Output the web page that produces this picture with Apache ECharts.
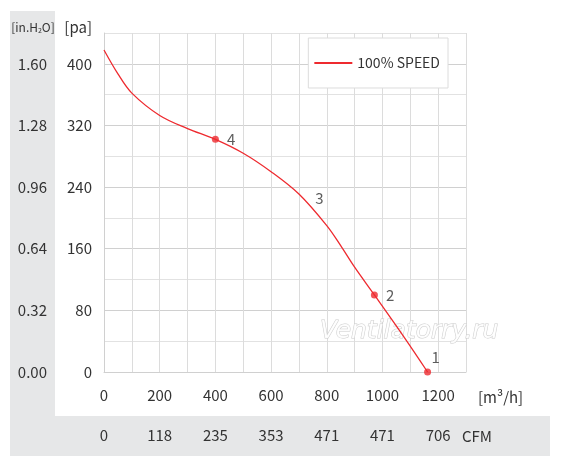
<!DOCTYPE html>
<html>
<head>
<meta charset="utf-8">
<script src="https://cdn.jsdelivr.net/npm/echarts@6/dist/echarts.min.js"></script>
<style>
html, body { margin: 0; padding: 0; background: #fff; }
#chart { width: 566px; height: 463px; }
</style>
</head>
<body>
<div id="chart"></div>
<script>
// curve: flow [m3/h] vs static pressure [pa]
var flow = [0, 50, 100, 200, 300, 400, 500, 600, 700, 800, 850, 900, 971, 1080, 1162];
var pressure = [418, 387, 362, 333, 316, 302, 284, 260, 231, 190, 164, 136, 100, 44, 0];

// numbered operating points (3 has no dot)
var pointNames = ['1', '2', '3', '4'];
var pointFlow = [1162, 971, 730, 400];
var pointPressure = [0, 100, 226, 302];
var pointDot = [true, true, false, true];

var paTicks = [0, 80, 160, 240, 320, 400];
var inH2OLabels = ['0.00', '0.32', '0.64', '0.96', '1.28', '1.60'];
var flowTicks = [0, 200, 400, 600, 800, 1000, 1200];
var cfmLabels = ['0', '118', '235', '353', '471', '471', '706'];

var font = '"Noto Sans CJK SC", "Noto Sans", sans-serif';
var txt = '#333';

var myChart = echarts.init(document.getElementById('chart'));

var curve = flow.map(function (f, i) { return [f, pressure[i]]; });
var points = pointNames.map(function (n, i) {
    var p = {
        value: [pointFlow[i], pointPressure[i]],
        name: n,
        symbolSize: pointDot[i] ? 7 : 0
    };
    if (n === '1') p.label = { position: 'top', offset: [8, 0], distance: 4 };
    return p;
});

function nameText(x, y, text, align, extra) {
    var t = {
        type: 'text', x: x, y: y, z: 5,
        style: {
            text: text, fill: txt, align: align, verticalAlign: 'middle',
            font: '15px ' + font
        }
    };
    if (extra) Object.assign(t.style, extra);
    return t;
}

option = {
    animation: false,
    textStyle: { fontFamily: font },
    graphic: [
        { type: 'rect', z: -10, shape: { x: 10, y: 11, width: 45, height: 445 }, style: { fill: '#e6e7e8' } },
        { type: 'rect', z: -10, shape: { x: 10, y: 416, width: 540, height: 40 }, style: { fill: '#e6e7e8' } },
        nameText(92, 27, '[pa]', 'right'),
        nameText(33, 27, '[in.H{s|2}O]', 'center', {
            font: '12px ' + font,
            rich: { s: { fontSize: 7, padding: [6, 0, 0, 0], fill: txt, fontFamily: font } }
        }),
        nameText(478, 397, '[m³/h]', 'left'),
        nameText(462, 436, 'CFM', 'left'),
        {
            type: 'text', x: 320, y: 331, z: 1,
            style: {
                text: 'Ventilatorry.ru', fill: 'rgba(255,255,255,0.9)',
                stroke: '#cccccc', lineWidth: 1, verticalAlign: 'middle',
                font: 'italic 25px "DejaVu Sans", sans-serif'
            }
        }
    ],
    legend: {
        right: 118, top: 38,
        padding: [18, 8, 18, 6],
        itemWidth: 38, itemHeight: 2, itemGap: 6,
        backgroundColor: '#fff',
        borderColor: '#dcdcdc', borderWidth: 1,
        textStyle: { fontSize: 14, color: txt, fontFamily: font },
        data: [{ name: '100% SPEED', icon: 'rect' }]
    },
    grid: { left: 104, right: 100, top: 33, bottom: 91 },
    xAxis: [{
        type: 'value', min: 0, max: 1300, interval: 100,
        axisLine: { lineStyle: { color: '#d0d0d0' } },
        axisTick: { show: false },
        axisLabel: {
            margin: 16, fontSize: 15, color: txt, fontFamily: font,
            formatter: function (v) { return flowTicks.indexOf(v) >= 0 ? String(v) : ''; }
        },
        splitLine: { lineStyle: { color: '#dcdcdc' } }
    }, {
        type: 'value', min: 0, max: 1300, interval: 100,
        position: 'bottom', offset: 40,
        axisLine: { show: false },
        axisTick: { show: false },
        splitLine: { show: false },
        axisLabel: {
            margin: 16, fontSize: 15, color: txt, fontFamily: font,
            formatter: function (v) {
                var k = flowTicks.indexOf(v);
                return k >= 0 ? cfmLabels[k] : '';
            }
        }
    }],
    yAxis: [{
        type: 'value', min: 0, max: 440, interval: 40,
        axisLine: { show: true, lineStyle: { color: '#d0d0d0' } },
        axisTick: { show: false },
        axisLabel: {
            margin: 12, fontSize: 15, color: txt, fontFamily: font,
            formatter: function (v) { return paTicks.indexOf(v) >= 0 ? String(v) : ''; }
        },
        splitLine: { lineStyle: { color: ['#d0d0d0', '#e2e2e2'] } }
    }, {
        type: 'value', min: 0, max: 440, interval: 40,
        position: 'left', offset: 46,
        axisLine: { show: false },
        axisTick: { show: false },
        splitLine: { show: false },
        axisLabel: {
            margin: 11, fontSize: 15, color: txt, fontFamily: font,
            formatter: function (v) {
                var k = paTicks.indexOf(v);
                return k >= 0 ? inH2OLabels[k] : '';
            }
        }
    }],
    series: [{
        name: '100% SPEED',
        type: 'line',
        smooth: 0.35,
        showSymbol: false,
        lineStyle: { color: '#ee2a2f', width: 1.3 },
        itemStyle: { color: '#ee2a2f' },
        data: curve
    }, {
        type: 'scatter',
        symbol: 'circle',
        itemStyle: { color: '#ee2a2f' },
        label: {
            show: true, position: 'right', distance: 8,
            formatter: '{b}', fontSize: 15, color: txt, fontFamily: font
        },
        data: points
    }]
};
myChart.setOption(option);
</script>
</body>
</html>
